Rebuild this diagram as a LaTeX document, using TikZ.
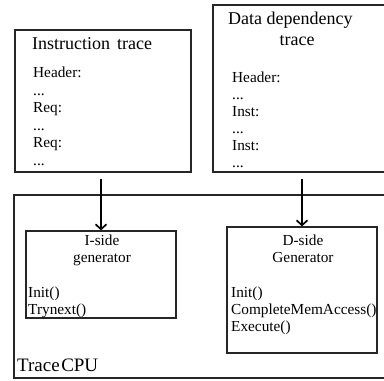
\documentclass[tikz,border=0pt]{standalone}
\usepackage{fontspec}
\setmainfont{Liberation Serif}
\usetikzlibrary{arrows.meta}
\begin{document}
\begin{tikzpicture}[x=1pt,y=-1pt,
  box/.style={draw=black!85, line width=1.2pt, rectangle, inner sep=0pt},
  arr/.style={draw=black, line width=2pt, -{Straight Barb[length=5pt,width=11pt,line width=1.7pt]}},
  titletxt/.style={inner sep=0pt, anchor=base west, font=\fontsize{18}{20}\selectfont},
  lines/.style={inner sep=0pt, anchor=base west, align=left, text width=160pt, font=\fontsize{15.3}{#1}\selectfont},
  clines/.style={inner sep=0pt, anchor=base, align=center, text width=140pt, font=\fontsize{15.3}{#1}\selectfont}]
\useasboundingbox (0,0) rectangle (384,381);
\clip (0,0) rectangle (384,381);
% boxes
\node[box, minimum width=176pt, minimum height=142pt] (ibox) at (103,101) {};
\node[box, minimum width=179pt, minimum height=167pt] (dbox) at (302.5,88.5) {};
\node[box, minimum width=378pt, minimum height=183pt] (cpu) at (203,286.5) {};
\node[box, minimum width=150pt, minimum height=87pt] (iside) at (101,274.5) {};
\node[box, minimum width=150pt, minimum height=126pt] (dside) at (302,290) {};
% arrows
\draw[arr, shorten <=6pt] (ibox.south -| iside.north) -- (iside.north);
\draw[arr, shorten <=6pt] (dbox.south -| dside.north) -- (dside.north);
% instruction trace
\node[titletxt] (ititle) at (32,49) {Instruction\hspace{7pt}trace};
\node[lines=17.5pt] (ibody) at (33,77.5) {Header:\\...\\Req:\\...\\Req:\\...};
% data dependency trace
\node[titletxt] (dtitle1) at (228,24) {Data dependency};
\node[titletxt, anchor=base] (dtitle2) at (297,45) {trace};
\node[lines=17pt] (dbody) at (232,82.5) {Header:\\...\\Inst:\\...\\Inst:\\...};
% I-side
\node[clines=16.5pt] (ihead) at (102,245.5) {I-side\\generator};
\node[lines=17pt] (ifun) at (28,297.5) {Init()\\Trynext()};
% D-side
\node[clines=17pt] (dhead) at (303,245) {D-side\\Generator};
\node[lines=17pt] (dfun) at (231,297.5) {Init()\\CompleteMemAccess()\\Execute()};
% Trace CPU
\node[inner sep=0pt, anchor=base west, font=\fontsize{19}{22}\selectfont] (cpulabel) at (17,371.7) {Trace\hspace{1.5pt}CPU};
\end{tikzpicture}
\end{document}
